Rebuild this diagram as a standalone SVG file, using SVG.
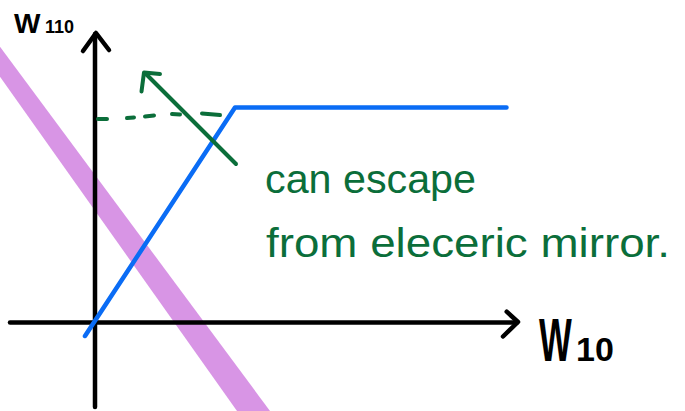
<svg xmlns="http://www.w3.org/2000/svg" width="685" height="411" viewBox="0 0 685 411">
  <style>
    .ax { stroke: #000; stroke-width: 4.5; fill: none; stroke-linecap: round; stroke-linejoin: round; }
    .grn { stroke: #0b6e3a; stroke-width: 4; fill: none; stroke-linecap: round; stroke-linejoin: round; }
    .blu { stroke: #0a6cf5; stroke-width: 4.5; fill: none; stroke-linecap: round; stroke-linejoin: round; }
    .lbl { font-family: "Liberation Sans", Arial, sans-serif; font-weight: bold; fill: #000; }
    .note { font-family: "Liberation Sans", Arial, sans-serif; fill: #0b6e3a; font-size: 40px; }
  </style>
  <rect width="685" height="411" fill="#fff"/>
  <g id="band">
    <polygon points="0,46.7 270,411 237,411 0,76.7" fill="#d895e5"/>
  </g>
  <g id="axes">
    <line class="ax" x1="95" y1="34" x2="95" y2="407"/>
    <polyline class="ax" points="83,51 96,33 109,50"/>
    <line class="ax" x1="10" y1="322.5" x2="517" y2="322.5"/>
    <polyline class="ax" points="506.7,311.7 518,322 503,336.5"/>
  </g>
  <g id="curve">
    <polyline class="blu" points="85,336 235,107.5 506.5,107.5"/>
  </g>
  <g id="escape-arrow">
    <path class="grn" d="M98,119 L107,119 M127,118 L134,117.5 M145,116.5 L154,115.5 M172,114 L180,114.5 M202,113.5 L220,115"/>
    <line class="grn" x1="236" y1="164" x2="145" y2="73"/>
    <polyline class="grn" points="160,74 144,72.5 141.5,91.5"/>
  </g>
  <g id="labels">
    <text class="lbl" x="14" y="33" font-size="28">W</text>
    <text class="lbl" x="45" y="33" font-size="18">110</text>
    <text class="lbl" transform="translate(539,361) scale(0.56,1)" font-size="62">W</text>
    <text class="lbl" x="576" y="361" font-size="34">10</text>
  </g>
  <g id="note">
    <text class="note" x="265" y="193" textLength="211" lengthAdjust="spacingAndGlyphs">can escape</text>
    <text class="note" x="266" y="257" textLength="404" lengthAdjust="spacingAndGlyphs">from eleceric mirror.</text>
  </g>
</svg>
